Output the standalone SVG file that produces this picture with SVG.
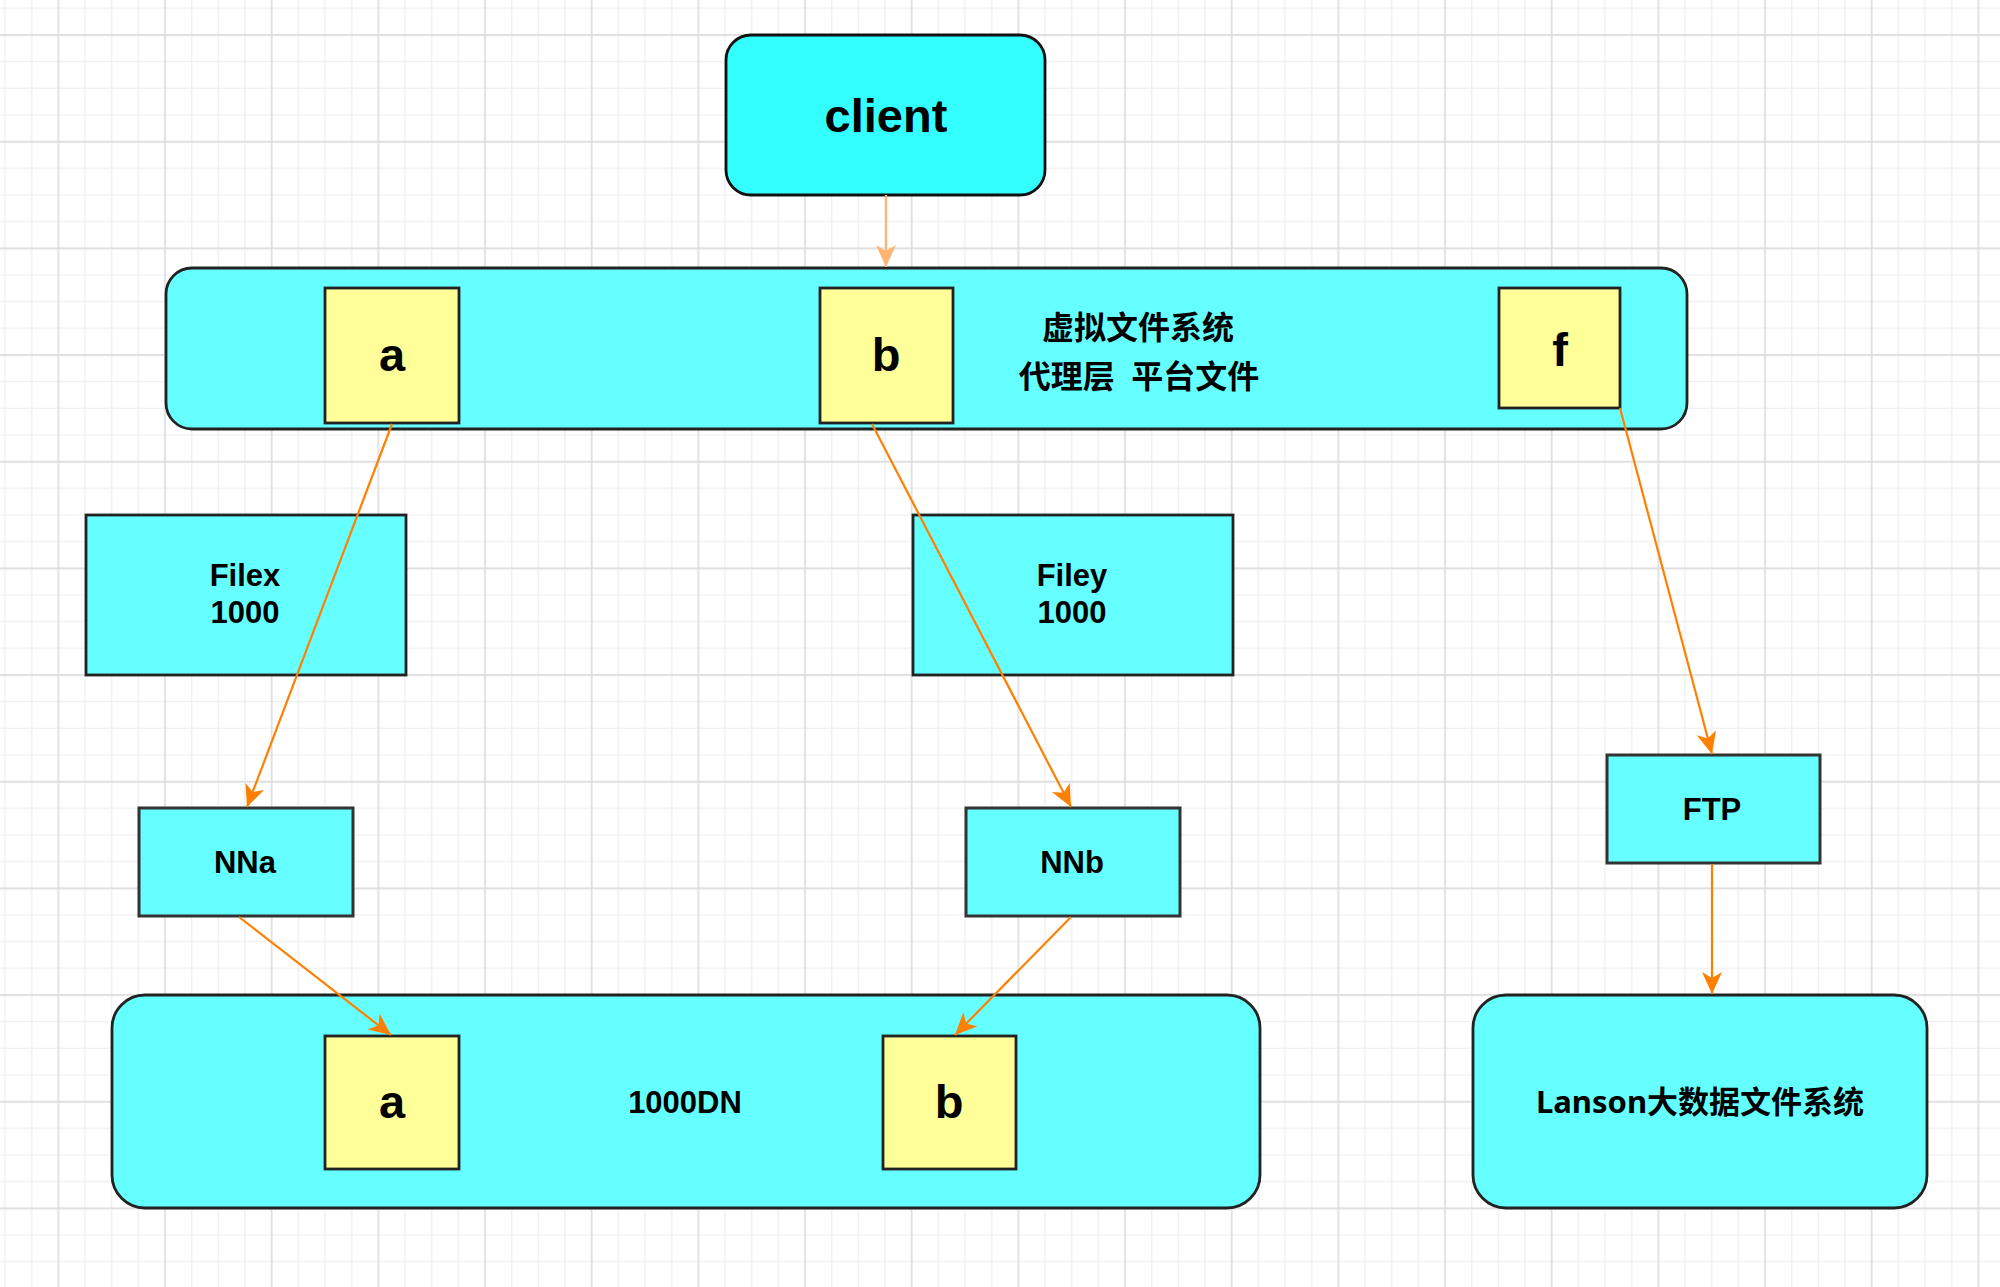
<svg xmlns="http://www.w3.org/2000/svg" width="2000" height="1287" viewBox="0 0 2000 1287">
<defs>
<pattern id="grid" patternUnits="userSpaceOnUse" x="-8.33" y="-31.67" width="106.667" height="106.667">
<path d="M13.33,0V106.667M40,0V106.667M93.33,0V106.667M0,13.33H106.667M0,40H106.667M0,93.33H106.667" stroke="#efefef" stroke-width="1.4" fill="none"/>
<path d="M66.67,0V106.667M0,66.67H106.667" stroke="#dcdcdc" stroke-width="1.6" fill="none"/>
</pattern>
<marker id="ah" markerUnits="userSpaceOnUse" markerWidth="26" markerHeight="24" refX="22" refY="10" orient="auto" viewBox="0 0 26 24">
<path d="M0,0 L22,10 L0,20 L6,10 Z" fill="#FF8000"/>
</marker>
<marker id="ahl" markerUnits="userSpaceOnUse" markerWidth="26" markerHeight="24" refX="22" refY="10" orient="auto" viewBox="0 0 26 24">
<path d="M0,0 L22,10 L0,20 L6,10 Z" fill="#FFB570"/>
</marker>
</defs>
<style>
.cy{fill:#66FFFF;stroke:#222;stroke-width:2.8}
.ye{fill:#FFFF99;stroke:#222;stroke-width:2.8}
.lt{font-family:"Liberation Sans",Arial,sans-serif;font-weight:bold;fill:#000;text-anchor:middle}
.cj{font-family:"Noto Sans","Noto Sans CJK SC",sans-serif;font-weight:bold;fill:#000;text-anchor:middle}
.big{font-size:47px}
.mid{font-size:31px}
.edge{fill:none;stroke:#FF8000;stroke-width:2.2}
</style>
<rect x="0" y="0" width="2000" height="1287" fill="#ffffff"/>
<rect x="0" y="0" width="2000" height="1287" fill="url(#grid)"/>

<g id="client">
<rect x="726" y="35" width="319" height="160" rx="25" ry="25" fill="#33FFFF" stroke="#111" stroke-width="2.8"/>
<text class="lt big" x="886" y="132">client</text>
</g>

<g id="proxy-layer">
<rect class="cy" x="166" y="268" width="1521" height="161" rx="26" ry="26"/>
<text class="cj" font-size="32" x="1138" y="339">虚拟文件系统</text>
<text class="cj" font-size="32" x="1139" y="388" style="white-space:pre">代理层  平台文件</text>
</g>
<g id="proxy-a">
<rect class="ye" x="325" y="288" width="134" height="135"/>
<text class="lt big" x="392" y="371">a</text>
</g>
<g id="proxy-b">
<rect class="ye" x="820" y="288" width="133" height="135"/>
<text class="lt big" x="886" y="371">b</text>
</g>
<g id="proxy-f">
<rect class="ye" x="1499" y="288" width="121" height="120"/>
<text class="lt big" x="1560" y="366">f</text>
</g>

<g id="filex">
<rect class="cy" x="86" y="515" width="320" height="160"/>
<text class="lt mid" x="245" y="586">Filex</text>
<text class="lt mid" x="245" y="623">1000</text>
</g>
<g id="filey">
<rect class="cy" x="913" y="515" width="320" height="160"/>
<text class="lt mid" x="1072" y="586">Filey</text>
<text class="lt mid" x="1072" y="623">1000</text>
</g>

<g id="nna">
<rect class="cy" x="139" y="808" width="214" height="108" style="stroke:#333;stroke-width:3"/>
<text class="lt mid" x="245" y="873">NNa</text>
</g>
<g id="nnb">
<rect class="cy" x="966" y="808" width="214" height="108" style="stroke:#333;stroke-width:3"/>
<text class="lt mid" x="1072" y="873">NNb</text>
</g>
<g id="ftp">
<rect class="cy" x="1607" y="755" width="213" height="108" style="stroke:#333;stroke-width:3"/>
<text class="lt mid" x="1712" y="820">FTP</text>
</g>

<g id="dn-layer">
<rect class="cy" x="112" y="995" width="1148" height="213" rx="33" ry="33"/>
<text class="lt mid" x="685" y="1113">1000DN</text>
</g>
<g id="dn-a">
<rect class="ye" x="325" y="1036" width="134" height="133"/>
<text class="lt big" x="392" y="1118">a</text>
</g>
<g id="dn-b">
<rect class="ye" x="883" y="1036" width="133" height="133"/>
<text class="lt big" x="949" y="1118">b</text>
</g>

<g id="lanson">
<rect class="cy" x="1473" y="995" width="454" height="213" rx="33" ry="33"/>
<text class="cj" font-size="31" x="1700" y="1113">Lanson大数据文件系统</text>
</g>

<g id="connectors">
<path d="M886,195 L886,267" fill="none" stroke="#FFB570" stroke-width="2.2" marker-end="url(#ahl)"/>
<path class="edge" d="M392,424 L247,807" marker-end="url(#ah)"/>
<path class="edge" d="M872,424 L1071,807" marker-end="url(#ah)"/>
<path class="edge" d="M1620,408 L1712,754" marker-end="url(#ah)"/>
<path class="edge" d="M239,917 L391,1035" marker-end="url(#ah)"/>
<path class="edge" d="M1071,917 L955,1035" marker-end="url(#ah)"/>
<path class="edge" d="M1712,864 L1712,994" marker-end="url(#ah)"/>
</g>
</svg>
